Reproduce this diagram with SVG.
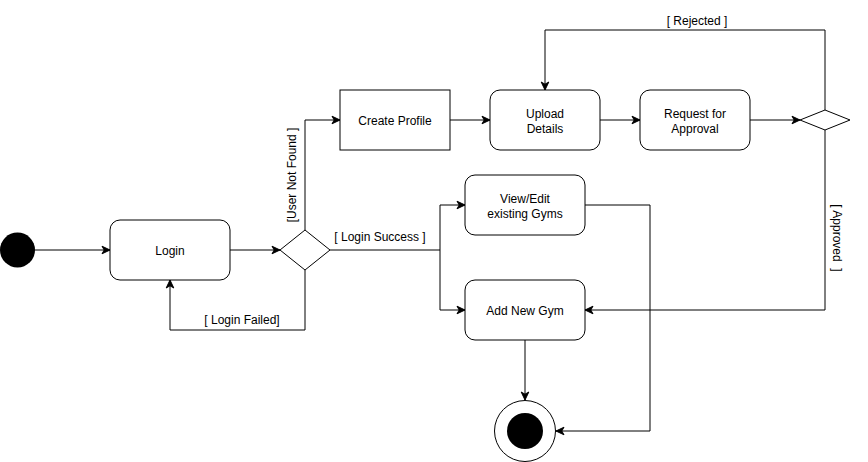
<svg xmlns="http://www.w3.org/2000/svg" width="868" height="462" viewBox="0 0 868 462">
<style>
.n{fill:#fff;stroke:#000;stroke-width:1}
.t{font-family:"Liberation Sans",Arial,sans-serif;font-size:12px;fill:#000;text-anchor:middle}
.e{fill:none;stroke:#000;stroke-width:1}
</style>
<defs>
<marker id="a" markerUnits="userSpaceOnUse" markerWidth="10" markerHeight="10" refX="9" refY="5" orient="auto">
<path d="M1,1.2 L9,5 L1,8.8 L3.2,5 Z" fill="#000" stroke="#000" stroke-width="1"/>
</marker>
</defs>
<g id="connectors">
<path class="e" d="M35,250 H110" marker-end="url(#a)"/>
<path class="e" d="M230,250 H280" marker-end="url(#a)"/>
<path class="e" d="M305,270 V330 H170 V280" marker-end="url(#a)"/>
<path class="e" d="M305,230 V120 H340" marker-end="url(#a)"/>
<path class="e" d="M330,250 H440 V205 H465" marker-end="url(#a)"/>
<path class="e" d="M440,250 V310 H465" marker-end="url(#a)"/>
<path class="e" d="M450,120 H490" marker-end="url(#a)"/>
<path class="e" d="M600,120 H640" marker-end="url(#a)"/>
<path class="e" d="M750,120 H800" marker-end="url(#a)"/>
<path class="e" d="M825,110 V30 H545 V90" marker-end="url(#a)"/>
<path class="e" d="M825,130 V310 H585" marker-end="url(#a)"/>
<path class="e" d="M585,205 H650 V431 H556" marker-end="url(#a)"/>
<path class="e" d="M525,340 V400" marker-end="url(#a)"/>
<text class="t" x="242" y="324">[ Login Failed]</text>
<text class="t" x="380" y="241">[ Login Success ]</text>
<text class="t" transform="translate(295.5,175) rotate(-90)">[User Not Found ]</text>
<text class="t" x="697" y="25">[ Rejected ]</text>
<text class="t" transform="translate(833,238) rotate(90)" xml:space="preserve">[ Approved  ]</text>
</g>
<g id="start"><circle cx="17.5" cy="250" r="17.5" fill="#000"/></g>
<g id="login"><rect class="n" x="110" y="220" width="120" height="60" rx="10"/><text class="t" x="170" y="255">Login</text></g>
<g id="decision1"><path class="n" d="M305,230 L330,250 L305,270 L280,250 Z"/></g>
<g id="createProfile"><rect class="n" x="340" y="90" width="110" height="60"/><text class="t" x="395" y="125">Create Profile</text></g>
<g id="uploadDetails"><rect class="n" x="490" y="90" width="110" height="60" rx="10"/><text class="t" x="545" y="118">Upload</text><text class="t" x="545" y="133">Details</text></g>
<g id="requestApproval"><rect class="n" x="640" y="90" width="110" height="60" rx="10"/><text class="t" x="695" y="118">Request for</text><text class="t" x="695" y="133">Approval</text></g>
<g id="decision2"><path class="n" d="M825,110 L850,120 L825,130 L800,120 Z"/></g>
<g id="viewEdit"><rect class="n" x="465" y="175" width="120" height="60" rx="10"/><text class="t" x="525" y="203">View/Edit</text><text class="t" x="525" y="218">existing Gyms</text></g>
<g id="addGym"><rect class="n" x="465" y="280" width="120" height="60" rx="10"/><text class="t" x="525" y="315">Add New Gym</text></g>
<g id="end"><circle class="n" cx="525" cy="431" r="30.5"/><circle cx="525" cy="431" r="18" fill="#000"/></g>
</svg>
